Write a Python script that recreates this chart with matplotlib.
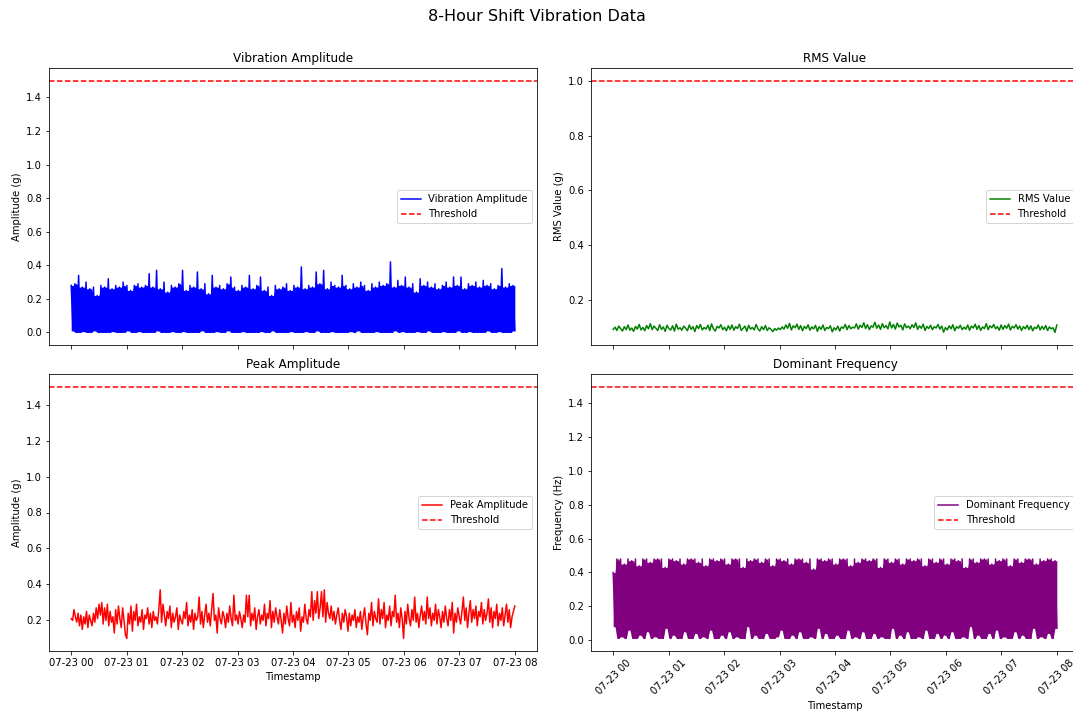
import numpy as np
import pandas as pd
import matplotlib
matplotlib.use('Agg')
import matplotlib.pyplot as plt

start = '2024-07-23 00:00'
end = '2024-07-23 08:00'

# vibration amplitude: upper and lower edge of the dense band
vib_peaks = [0.28, 0.29, 0.34, 0.27, 0.30, 0.26, 0.27, 0.22, 0.28, 0.27,
             0.32, 0.26, 0.28, 0.27, 0.30, 0.28, 0.25, 0.28, 0.29, 0.27,
             0.28, 0.35, 0.27, 0.37, 0.26, 0.30, 0.24, 0.28, 0.27, 0.29,
             0.37, 0.25, 0.28, 0.27, 0.36, 0.26, 0.29, 0.23, 0.34, 0.27,
             0.28, 0.26, 0.29, 0.33, 0.27, 0.25, 0.28, 0.27, 0.34, 0.26,
             0.28, 0.33, 0.25, 0.27, 0.22, 0.28, 0.26, 0.27, 0.29, 0.25,
             0.28, 0.27, 0.39, 0.26, 0.28, 0.27, 0.36, 0.29, 0.37, 0.26,
             0.30, 0.28, 0.27, 0.34, 0.28, 0.26, 0.29, 0.27, 0.30, 0.28,
             0.25, 0.29, 0.27, 0.30, 0.28, 0.29, 0.42, 0.27, 0.31, 0.28,
             0.33, 0.27, 0.29, 0.24, 0.32, 0.28, 0.30, 0.27, 0.29, 0.26,
             0.28, 0.30, 0.27, 0.33, 0.28, 0.33, 0.26, 0.29, 0.28, 0.30,
             0.27, 0.31, 0.28, 0.29, 0.26, 0.28, 0.38, 0.27, 0.29, 0.28]
vib_troughs = [0.01, 0.0, 0.0, 0.005, 0.0, 0.0, 0.01, 0.0, 0.0, 0.0,
               0.0, 0.005, 0.0, 0.0, 0.0, 0.01, 0.0, 0.0, 0.005, 0.0,
               0.0, 0.0, 0.0, 0.01, 0.0, 0.0, 0.0, 0.005, 0.0, 0.0,
               0.005, 0.0, 0.0, 0.0, 0.0, 0.01, 0.0, 0.0, 0.0, 0.005,
               0.0, 0.0, 0.01, 0.0, 0.0, 0.0, 0.005, 0.0, 0.0, 0.0,
               0.0, 0.005, 0.0, 0.0, 0.01, 0.0, 0.0, 0.0, 0.0, 0.005,
               0.0, 0.0, 0.0, 0.005, 0.0, 0.0, 0.01, 0.0, 0.0, 0.0,
               0.005, 0.0, 0.0, 0.0, 0.0, 0.005, 0.0, 0.01, 0.0, 0.0,
               0.0, 0.0, 0.005, 0.0, 0.0, 0.0, 0.0, 0.01, 0.0, 0.005,
               0.0, 0.0, 0.0, 0.005, 0.0, 0.0, 0.01, 0.0, 0.0, 0.0,
               0.005, 0.0, 0.0, 0.0, 0.01, 0.0, 0.0, 0.005, 0.0, 0.0,
               0.0, 0.0, 0.01, 0.0, 0.0, 0.005, 0.0, 0.0, 0.0, 0.01]

rms_values = [0.094, 0.102, 0.090, 0.106, 0.097, 0.088, 0.104, 0.093, 0.110, 0.091,
              0.099, 0.087, 0.105, 0.095, 0.112, 0.092, 0.101, 0.089, 0.108, 0.096,
              0.115, 0.093, 0.106, 0.098, 0.090, 0.111, 0.094, 0.103, 0.087, 0.109,
              0.097, 0.092, 0.107, 0.088, 0.113, 0.095, 0.100, 0.091, 0.106, 0.099,
              0.089, 0.110, 0.094, 0.104, 0.086, 0.108, 0.097, 0.112, 0.092, 0.101,
              0.095, 0.109, 0.090, 0.114, 0.096, 0.088, 0.105, 0.099, 0.111, 0.093,
              0.102, 0.089, 0.107, 0.094, 0.110, 0.091, 0.104, 0.097, 0.113, 0.090,
              0.098, 0.106, 0.087, 0.109, 0.095, 0.101, 0.092, 0.112, 0.096, 0.088,
              0.104, 0.093, 0.108, 0.090, 0.100, 0.094, 0.086, 0.097, 0.091, 0.099,
              0.093, 0.103, 0.095, 0.110, 0.098, 0.116, 0.092, 0.107, 0.100, 0.113,
              0.094, 0.108, 0.089, 0.105, 0.097, 0.111, 0.091, 0.103, 0.096, 0.109,
              0.087, 0.104, 0.094, 0.110, 0.090, 0.101, 0.097, 0.107, 0.085, 0.100,
              0.092, 0.106, 0.088, 0.103, 0.098, 0.112, 0.093, 0.108, 0.096, 0.102,
              0.099, 0.114, 0.095, 0.109, 0.101, 0.118, 0.097, 0.111, 0.093, 0.107,
              0.102, 0.120, 0.098, 0.110, 0.094, 0.115, 0.100, 0.108, 0.096, 0.121,
              0.099, 0.112, 0.095, 0.117, 0.103, 0.109, 0.092, 0.114, 0.100, 0.106,
              0.096, 0.111, 0.101, 0.118, 0.094, 0.107, 0.098, 0.113, 0.090, 0.105,
              0.097, 0.109, 0.093, 0.104, 0.099, 0.112, 0.095, 0.106, 0.084, 0.101,
              0.092, 0.107, 0.096, 0.111, 0.089, 0.104, 0.098, 0.109, 0.093, 0.102,
              0.095, 0.110, 0.091, 0.106, 0.099, 0.113, 0.094, 0.108, 0.090, 0.103,
              0.097, 0.115, 0.093, 0.107, 0.100, 0.112, 0.096, 0.104, 0.091, 0.110,
              0.094, 0.108, 0.098, 0.113, 0.092, 0.105, 0.099, 0.111, 0.095, 0.106,
              0.090, 0.104, 0.096, 0.109, 0.093, 0.107, 0.089, 0.102, 0.097, 0.110,
              0.092, 0.105, 0.094, 0.108, 0.090, 0.103, 0.096, 0.100, 0.083, 0.110]

peak_values = [0.21, 0.20, 0.26, 0.22, 0.19, 0.24, 0.17, 0.23, 0.15, 0.22,
               0.18, 0.25, 0.16, 0.23, 0.20, 0.17, 0.24, 0.19, 0.27, 0.21,
               0.29, 0.23, 0.30, 0.18, 0.27, 0.20, 0.29, 0.17, 0.25, 0.19,
               0.22, 0.13, 0.26, 0.18, 0.28, 0.21, 0.16, 0.27, 0.20, 0.12,
               0.10, 0.24, 0.18, 0.28, 0.14, 0.25, 0.20, 0.29, 0.17, 0.22,
               0.19, 0.26, 0.15, 0.23, 0.21, 0.27, 0.18, 0.24, 0.16, 0.25,
               0.20, 0.22, 0.18, 0.26, 0.37, 0.19, 0.29, 0.23, 0.17, 0.25,
               0.21, 0.28, 0.16, 0.24, 0.19, 0.22, 0.27, 0.15, 0.23, 0.20,
               0.18, 0.25, 0.21, 0.30, 0.17, 0.23, 0.19, 0.26, 0.15, 0.24,
               0.20, 0.22, 0.33, 0.18, 0.25, 0.16, 0.23, 0.29, 0.19, 0.24,
               0.17, 0.26, 0.35, 0.20, 0.23, 0.13, 0.27, 0.21, 0.18, 0.25,
               0.22, 0.16, 0.24, 0.19, 0.28, 0.21, 0.17, 0.34, 0.20, 0.23,
               0.18, 0.25, 0.21, 0.16, 0.23, 0.19, 0.34, 0.22, 0.34, 0.17,
               0.24, 0.20, 0.27, 0.15, 0.22, 0.26, 0.18, 0.23, 0.20, 0.29,
               0.17, 0.24, 0.21, 0.31, 0.16, 0.25, 0.19, 0.27, 0.22, 0.18,
               0.26, 0.20, 0.13, 0.24, 0.18, 0.28, 0.21, 0.17, 0.30, 0.19,
               0.23, 0.16, 0.25, 0.20, 0.27, 0.14, 0.22, 0.19, 0.29, 0.21,
               0.18, 0.26, 0.22, 0.36, 0.20, 0.31, 0.24, 0.36, 0.21, 0.27,
               0.36, 0.22, 0.37, 0.19, 0.30, 0.24, 0.21, 0.28, 0.20, 0.25,
               0.18, 0.23, 0.27, 0.20, 0.15, 0.24, 0.19, 0.26, 0.22, 0.14,
               0.24, 0.17, 0.23, 0.20, 0.26, 0.16, 0.22, 0.19, 0.25, 0.15,
               0.22, 0.27, 0.18, 0.12, 0.24, 0.20, 0.30, 0.17, 0.25, 0.21,
               0.19, 0.32, 0.18, 0.26, 0.21, 0.30, 0.16, 0.23, 0.20, 0.28,
               0.17, 0.25, 0.22, 0.34, 0.19, 0.24, 0.16, 0.27, 0.21, 0.10,
               0.25, 0.18, 0.29, 0.21, 0.17, 0.26, 0.20, 0.33, 0.19, 0.24,
               0.16, 0.23, 0.28, 0.20, 0.25, 0.18, 0.33, 0.21, 0.27, 0.17,
               0.24, 0.20, 0.29, 0.18, 0.26, 0.22, 0.16, 0.25, 0.19, 0.28,
               0.21, 0.17, 0.26, 0.20, 0.30, 0.13, 0.24, 0.19, 0.27, 0.22,
               0.18, 0.25, 0.33, 0.20, 0.27, 0.16, 0.24, 0.31, 0.19, 0.26,
               0.21, 0.28, 0.17, 0.25, 0.22, 0.30, 0.18, 0.26, 0.20, 0.24,
               0.32, 0.19, 0.27, 0.16, 0.25, 0.21, 0.29, 0.17, 0.24, 0.20,
               0.27, 0.17, 0.23, 0.29, 0.19, 0.26, 0.16, 0.22, 0.25, 0.28]

# dominant frequency: upper and lower edge of the dense band
freq_peaks = [0.40, 0.48, 0.48, 0.45, 0.48, 0.47, 0.48, 0.44, 0.48, 0.48,
              0.46, 0.48, 0.48, 0.48, 0.43, 0.48, 0.48, 0.47, 0.48, 0.45,
              0.48, 0.48, 0.48, 0.46, 0.48, 0.44, 0.48, 0.48, 0.47, 0.48,
              0.48, 0.45, 0.48, 0.48, 0.48, 0.43, 0.48, 0.47, 0.48, 0.48,
              0.46, 0.48, 0.48, 0.44, 0.48, 0.48, 0.47, 0.48, 0.45, 0.48,
              0.48, 0.48, 0.46, 0.48, 0.42, 0.48, 0.48, 0.47, 0.48, 0.48,
              0.45, 0.48, 0.48, 0.48, 0.44, 0.48, 0.46, 0.48, 0.48, 0.47,
              0.48, 0.48, 0.43, 0.48, 0.48, 0.46, 0.48, 0.48, 0.45, 0.48,
              0.48, 0.47, 0.48, 0.48, 0.44, 0.48, 0.48, 0.46, 0.48, 0.48,
              0.45, 0.48, 0.48, 0.47, 0.48, 0.43, 0.48, 0.48, 0.46, 0.48,
              0.48, 0.48, 0.45, 0.48, 0.47, 0.48, 0.48, 0.44, 0.48, 0.48,
              0.46, 0.48, 0.48, 0.48, 0.45, 0.48, 0.47, 0.48, 0.48, 0.47]
freq_troughs = [0.08, 0.01, 0.02, 0.01, 0.06, 0.01, 0.01, 0.03, 0.01, 0.05,
                0.01, 0.02, 0.01, 0.01, 0.07, 0.01, 0.03, 0.01, 0.01, 0.05,
                0.01, 0.01, 0.04, 0.01, 0.02, 0.01, 0.06, 0.01, 0.01, 0.03,
                0.01, 0.05, 0.01, 0.02, 0.01, 0.01, 0.08, 0.01, 0.03, 0.01,
                0.01, 0.04, 0.01, 0.01, 0.02, 0.06, 0.01, 0.01, 0.03, 0.01,
                0.05, 0.01, 0.01, 0.02, 0.01, 0.07, 0.01, 0.04, 0.01, 0.01,
                0.03, 0.01, 0.01, 0.06, 0.01, 0.02, 0.01, 0.05, 0.01, 0.01,
                0.04, 0.01, 0.02, 0.01, 0.01, 0.07, 0.01, 0.03, 0.01, 0.05,
                0.01, 0.01, 0.02, 0.01, 0.06, 0.01, 0.01, 0.04, 0.01, 0.03,
                0.01, 0.05, 0.01, 0.01, 0.02, 0.01, 0.08, 0.01, 0.03, 0.01,
                0.01, 0.04, 0.01, 0.06, 0.01, 0.02, 0.01, 0.01, 0.05, 0.01,
                0.03, 0.01, 0.01, 0.07, 0.01, 0.02, 0.01, 0.04, 0.01, 0.07]

thresholds = {'vib': 1.5, 'rms': 1.0, 'peak': 1.5, 'freq': 1.5}


def band(ax, peaks, troughs, color, label):
    # line alternates top and bottom samples; the body of the band is
    # filled up to the lower of each pair of neighbouring tops
    n = len(peaks)
    t = pd.date_range(start, end, periods=2 * n)
    y = np.empty(2 * n)
    y[0::2] = peaks
    y[1::2] = troughs
    p = np.asarray(peaks)
    top = np.minimum(p, np.append(p[1:], p[-1]))
    ax.fill_between(t, np.repeat(troughs, 2), np.repeat(top, 2),
                    color=color, lw=0)
    ax.plot(t, y, color=color, label=label)


W, H = 1073, 713
fig = plt.figure(figsize=(W / 72, H / 72), dpi=72)
fig.suptitle('8-Hour Shift Vibration Data', fontsize=16, y=0.988, va='top')

lw, aw, ah = 49 / W, 488 / W, 277 / H
ax1 = fig.add_axes([lw, 368 / H, aw, ah])
ax2 = fig.add_axes([591 / W, 368 / H, aw, ah], sharex=ax1)
ax3 = fig.add_axes([lw, 62 / H, aw, ah], sharex=ax1)
ax4 = fig.add_axes([591 / W, 62 / H, aw, ah], sharex=ax1)

# vibration amplitude
band(ax1, vib_peaks, vib_troughs, 'blue', 'Vibration Amplitude')
ax1.axhline(thresholds['vib'], color='r', linestyle='--', label='Threshold')
ax1.set_title('Vibration Amplitude')
ax1.set_ylabel('Amplitude (g)')
ax1.legend(loc='center right')

# rms
t_rms = pd.date_range(start, end, periods=len(rms_values))
ax2.plot(t_rms, rms_values, color='green', label='RMS Value')
ax2.axhline(thresholds['rms'], color='r', linestyle='--', label='Threshold')
ax2.set_title('RMS Value')
ax2.set_ylabel('RMS Value (g)')
ax2.legend(loc='center right')

# peak amplitude
t_pk = pd.date_range(start, end, periods=len(peak_values))
ax3.plot(t_pk, peak_values, color='red', label='Peak Amplitude')
ax3.axhline(thresholds['peak'], color='r', linestyle='--', label='Threshold')
ax3.set_title('Peak Amplitude')
ax3.set_xlabel('Timestamp')
ax3.set_ylabel('Amplitude (g)')
ax3.legend(loc='center right')

# dominant frequency
band(ax4, freq_peaks, freq_troughs, 'purple', 'Dominant Frequency')
ax4.axhline(thresholds['freq'], color='r', linestyle='--', label='Threshold')
ax4.set_title('Dominant Frequency')
ax4.set_xlabel('Timestamp')
ax4.set_ylabel('Frequency (Hz)')
ax4.legend(loc='center right')

ax1.tick_params(labelbottom=False)
ax2.tick_params(labelbottom=False)
for lab in ax4.get_xticklabels():
    lab.set_rotation(45)

fig.savefig('out.png', dpi=72)
